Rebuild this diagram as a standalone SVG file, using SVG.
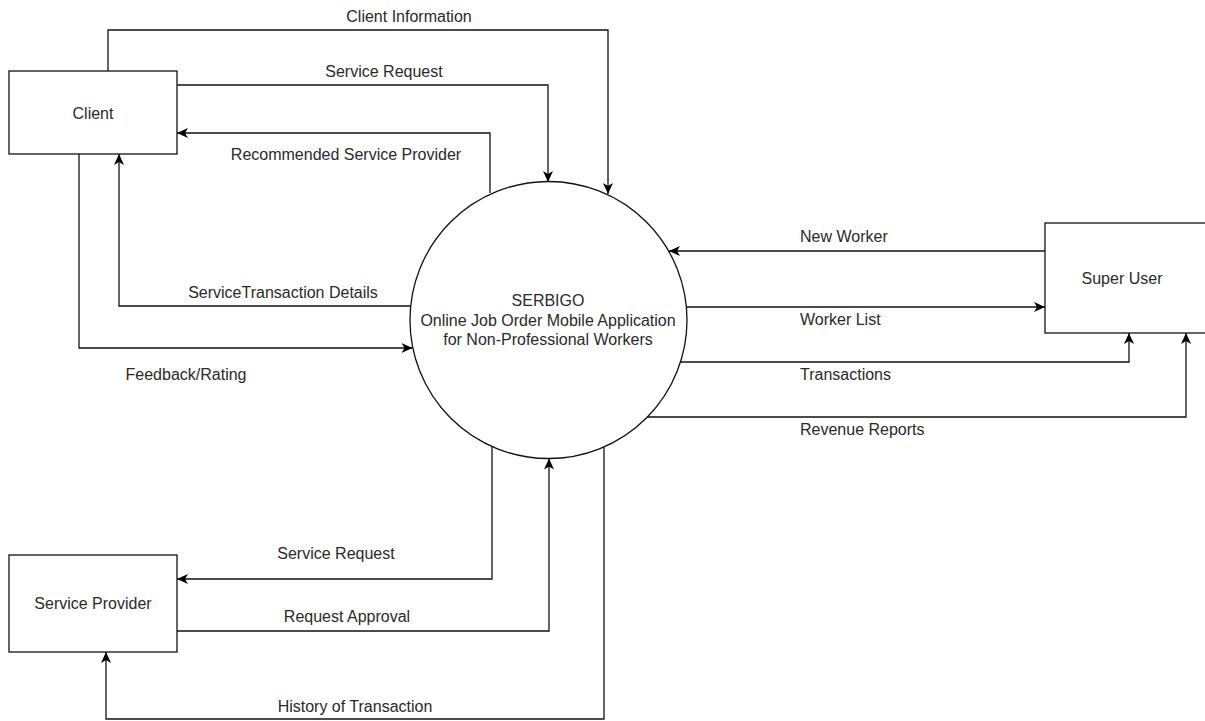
<svg xmlns="http://www.w3.org/2000/svg" width="1205" height="721" viewBox="0 0 1205 721">
<style>
.box{fill:#fff;stroke:#111;stroke-width:1.3}
.lbl{font-family:"Liberation Sans",Arial,sans-serif;font-size:16px;fill:#2a2a2a}
.mid{text-anchor:middle}
.edge{fill:none;stroke:#111;stroke-width:1.3}
</style>
<defs>
<marker id="arr" markerUnits="userSpaceOnUse" markerWidth="13" markerHeight="12" refX="11" refY="5" orient="auto">
<path d="M0,0 L11,5 L0,10 L3,5 Z" fill="#000"/>
</marker>
</defs>
<rect width="1205" height="721" fill="#fff"/>
<g id="connectors">
<path class="edge" d="M108,71 V30 H608 V194" marker-end="url(#arr)"/>
<path class="edge" d="M177,85 H548 V182" marker-end="url(#arr)"/>
<path class="edge" d="M490,193 V133 H177" marker-end="url(#arr)"/>
<path class="edge" d="M410.6,306 H119 V154" marker-end="url(#arr)"/>
<path class="edge" d="M79,154 V348 H412.5" marker-end="url(#arr)"/>
<path class="edge" d="M1045,251 H669" marker-end="url(#arr)"/>
<path class="edge" d="M686,307 H1045" marker-end="url(#arr)"/>
<path class="edge" d="M680,362 H1129 V333" marker-end="url(#arr)"/>
<path class="edge" d="M647,417 H1186 V333" marker-end="url(#arr)"/>
<path class="edge" d="M492,446 V579 H177" marker-end="url(#arr)"/>
<path class="edge" d="M177,631 H549 V458.5" marker-end="url(#arr)"/>
<path class="edge" d="M604,447 V719 H106 V652" marker-end="url(#arr)"/>
<text class="lbl mid" x="409" y="22">Client Information</text>
<text class="lbl mid" x="384" y="77">Service Request</text>
<text class="lbl mid" x="346" y="160">Recommended Service Provider</text>
<text class="lbl mid" x="283" y="298">ServiceTransaction Details</text>
<text class="lbl mid" x="186" y="380">Feedback/Rating</text>
<text class="lbl" x="800" y="242">New Worker</text>
<text class="lbl" x="800" y="325">Worker List</text>
<text class="lbl" x="800" y="380">Transactions</text>
<text class="lbl" x="800" y="435">Revenue Reports</text>
<text class="lbl mid" x="336" y="559">Service Request</text>
<text class="lbl mid" x="347" y="622">Request Approval</text>
<text class="lbl mid" x="355" y="712">History of Transaction</text>
</g>
<g id="client">
<rect class="box" x="9" y="71" width="168" height="83"/>
<text class="lbl mid" x="93" y="119">Client</text>
</g>
<g id="system">
<circle class="box" cx="548.5" cy="320" r="138.5" style="fill:none"/>
<text class="lbl mid" x="548" y="306">SERBIGO</text>
<text class="lbl mid" x="548" y="326">Online Job Order Mobile Application</text>
<text class="lbl mid" x="548" y="345">for Non-Professional Workers</text>
</g>
<g id="superuser">
<rect class="box" x="1045" y="223" width="168" height="110"/>
<text class="lbl mid" x="1122" y="284">Super User</text>
</g>
<g id="serviceprovider">
<rect class="box" x="9" y="555" width="168" height="97"/>
<text class="lbl mid" x="93" y="609">Service Provider</text>
</g>
</svg>
